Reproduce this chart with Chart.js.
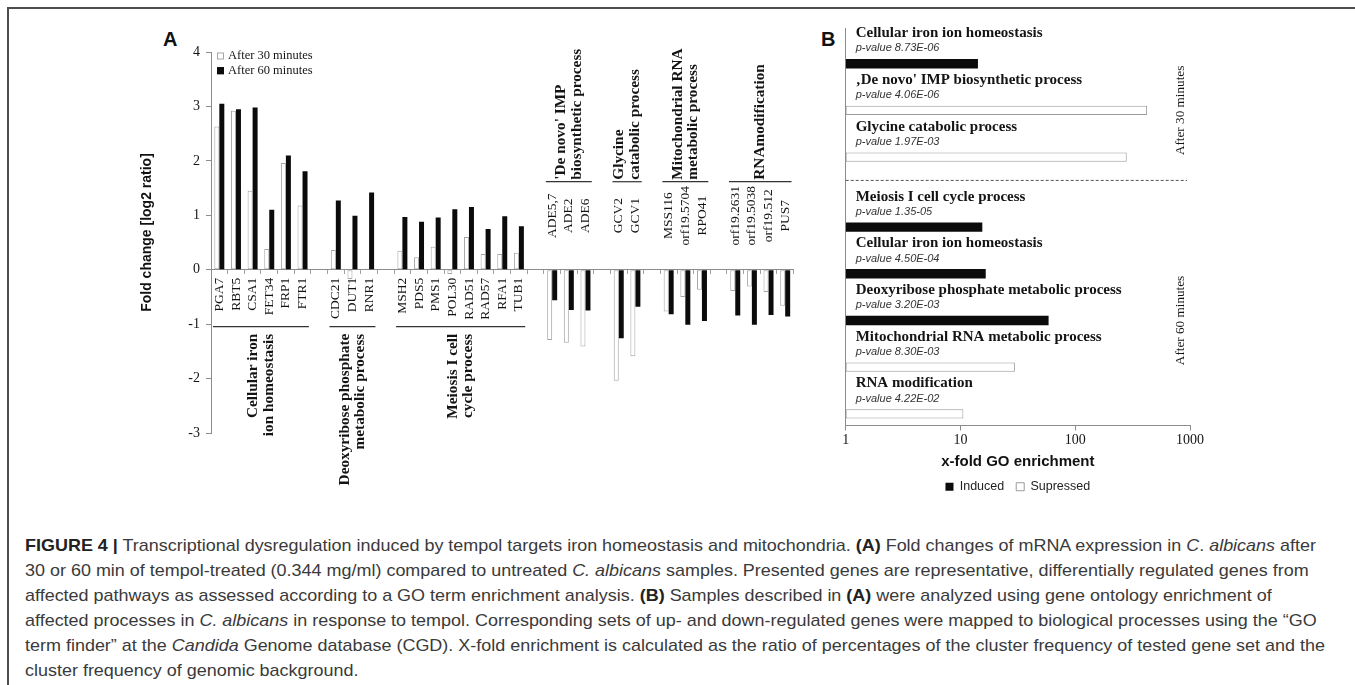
<!DOCTYPE html>
<html>
<head>
<meta charset="utf-8">
<title>Tempol transcriptional response</title>
<script src="https://cdn.jsdelivr.net/npm/chart.js@4.4.1/dist/chart.umd.min.js"></script>
<style>
  html, body { margin: 0; padding: 0; background: #fff; width: 1355px; height: 685px; overflow: hidden; position: relative; }
  #frame { position: absolute; left: 7px; top: 7px; width: 1400px; height: 700px; border-top: 2px solid #4d4d4d; border-left: 2px solid #4d4d4d; }
  .panel { position: absolute; font: bold 20px "Liberation Sans", Arial, sans-serif; color: #111; line-height: 20px; }
  #boxA { position: absolute; left: 130px; top: 20px; width: 680px; height: 480px; }
  #boxB { position: absolute; left: 800px; top: 20px; width: 430px; height: 483px; }
  #caption { position: absolute; left: 25px; top: 533px; font: 17px "Liberation Sans", Arial, sans-serif; color: #3a3a3a; line-height: 25px; white-space: nowrap; transform-origin: 0 0; }
  #caption b { color: #222; }
</style>
</head>
<body>
<div id="frame"></div>
<div class="panel" style="left:163px;top:29px;">A</div>
<div class="panel" style="left:821px;top:29px;">B</div>
<div id="boxA"><canvas id="chartA"></canvas></div>
<div id="boxB"><canvas id="chartB"></canvas></div>
<div id="caption">
  <div><b>FIGURE 4 |</b> Transcriptional dysregulation induced by tempol targets iron homeostasis and mitochondria. <b>(A)</b> Fold changes of mRNA expression in <i>C</i>. <i>albicans</i> after</div>
  <div>30 or 60 min of tempol-treated (0.344 mg/ml) compared to untreated <i>C. albicans</i> samples. Presented genes are representative, differentially regulated genes from</div>
  <div>affected pathways as assessed according to a GO term enrichment analysis. <b>(B)</b> Samples described in <b>(A)</b> were analyzed using gene ontology enrichment of</div>
  <div>affected processes in <i>C. albicans</i> in response to tempol. Corresponding sets of up- and down-regulated genes were mapped to biological processes using the “GO</div>
  <div>term finder” at the <i>Candida</i> Genome database (CGD). X-fold enrichment is calculated as the ratio of percentages of the cluster frequency of tested gene set and the</div>
  <div>cluster frequency of genomic background.</div>
</div>
<script>
// ---- Panel A: fold change (log2) per gene; '' / null mark the gaps between GO groups ----
const geneLabels = ['PGA7', 'RBT5', 'CSA1', 'FET34', 'FRP1', 'FTR1', '',
  'CDC21', 'DUT1', 'RNR1', '',
  'MSH2', 'PDS5', 'PMS1', 'POL30', 'RAD51', 'RAD57', 'RFA1', 'TUB1', '',
  'ADE5,7', 'ADE2', 'ADE6', '',
  'GCV2', 'GCV1', '',
  'MSS116', 'orf19.5704', 'RPO41', '',
  'orf19.2631', 'orf19.5038', 'orf19.512', 'PUS7'];
const after30min = [2.63, 2.92, 1.45, 0.38, 1.96, 1.18, null,
  0.36, -0.17, 0.02, null,
  0.35, 0.23, 0.42, -0.08, 0.60, 0.29, 0.29, 0.31, null,
  -1.29, -1.34, -1.41, null,
  -2.04, -1.59, null,
  -0.77, -0.50, -0.37, null,
  -0.39, -0.31, -0.41, -0.66];
const after60min = [3.05, 2.95, 2.98, 1.10, 2.10, 1.81, null,
  1.27, 0.99, 1.42, null,
  0.97, 0.88, 0.96, 1.11, 1.15, 0.75, 0.98, 0.80, null,
  -0.56, -0.74, -0.75, null,
  -1.26, -0.68, null,
  -0.82, -1.01, -0.94, null,
  -0.84, -1.01, -0.83, -0.86];
const groupTitles = [
  ['Cellular iron', 'ion homeostasis'],
  ['Deoxyribose phosphate', 'metabolic process'],
  ['Meiosis I cell', 'cycle process'],
  ["'De novo' IMP", 'biosynthetic process'],
  ['Glycine', 'catabolic process'],
  ['Mitochondrial RNA', 'metabolic process'],
  ['RNAmodification']
];
const foldRange = [-3, 4];
const seriesNames = ['After 30 minutes', 'After 60 minutes'];

// ---- Panel B: GO enrichment ----
const goPeriods = ['After 30 minutes', 'After 60 minutes'];
const goTerms = ['Cellular iron ion homeostasis', '\u201ADe novo\' IMP biosynthetic process', 'Glycine catabolic process',
  'Meiosis I cell cycle process', 'Cellular iron ion homeostasis', 'Deoxyribose phosphate metabolic process',
  'Mitochondrial RNA metabolic process', 'RNA modification'];
const goPeriodOf = [0, 0, 0, 1, 1, 1, 1, 1];
const goPValues = ['8.73E-06', '4.06E-06', '1.97E-03', '1.35-05', '4.50E-04', '3.20E-03', '8.30E-03', '4.22E-02'];
const goEnrichment = [14.2, 423, 281, 15.5, 16.6, 58.6, 29.8, 10.6];
const goRegulation = ['Induced', 'Supressed', 'Supressed', 'Induced', 'Induced', 'Induced', 'Supressed', 'Supressed'];
const regulationKinds = ['Induced', 'Supressed'];
const enrichmentTicks = [1, 10, 100, 1000];

const SERIF = '"Liberation Serif", "Times New Roman", serif';
const SANS = '"Liberation Sans", Arial, sans-serif';
const INK = '#141414';
const AXIS = '#8c8c8c';

// Gene names, group brackets and titles, inline legend and y title for panel A
const geneAxisPlugin = {
  id: 'geneAxis',
  afterDatasetsDraw(chart) {
    const { ctx, chartArea, scales: { x, y } } = chart;
    const y0 = y.getPixelForValue(0);
    const half = (x.getPixelForValue(1) - x.getPixelForValue(0)) / 2;
    const groups = [];
    geneLabels.forEach((g, i) => {
      if (!g) return;
      const last = groups[groups.length - 1];
      if (last && last.end === i - 1) last.end = i; else groups.push({ start: i, end: i });
    });
    ctx.save();
    ctx.fillStyle = INK;
    groups.forEach((grp, k) => {
      let sum = 0;
      for (let i = grp.start; i <= grp.end; i++) sum += after60min[i];
      const up = sum > 0;
      ctx.font = '13.5px ' + SERIF;
      ctx.textBaseline = 'middle';
      for (let i = grp.start; i <= grp.end; i++) {
        ctx.save();
        ctx.translate(x.getPixelForValue(i), up ? y0 + 8 : y0 - 54);
        ctx.rotate(-Math.PI / 2);
        ctx.textAlign = up ? 'right' : 'center';
        ctx.fillText(geneLabels[i], 0, 0);
        ctx.restore();
      }
      const lineY = up ? y0 + 57 : y0 - 88;
      const xl = x.getPixelForValue(grp.start) - half + 2;
      const xr = x.getPixelForValue(grp.end) + half - 2;
      ctx.strokeStyle = '#333';
      ctx.lineWidth = 1.2;
      ctx.beginPath(); ctx.moveTo(xl, lineY); ctx.lineTo(xr, lineY); ctx.stroke();
      const title = groupTitles[k];
      const cx = (xl + xr) / 2;
      ctx.font = 'bold 15.3px ' + SERIF;
      title.forEach((line, li) => {
        ctx.save();
        ctx.translate(cx + (li - (title.length - 1) / 2) * 15.5, up ? y0 + 64 : y0 - 90);
        ctx.rotate(-Math.PI / 2);
        ctx.textAlign = up ? 'right' : 'left';
        ctx.fillText(line, 0, 0);
        ctx.restore();
      });
    });
    // legend inside the plot
    ctx.font = '12.5px ' + SERIF;
    ctx.textAlign = 'left';
    ctx.textBaseline = 'middle';
    chart.data.datasets.forEach((ds, d) => {
      const ly = chartArea.top + 4 + d * 14.7;
      ctx.fillStyle = ds.backgroundColor;
      ctx.fillRect(chartArea.left + 6, ly - 3.5, 7, 7);
      ctx.strokeStyle = ds.borderColor;
      ctx.lineWidth = 1;
      ctx.strokeRect(chartArea.left + 6.5, ly - 3, 6, 6);
      ctx.fillStyle = INK;
      ctx.fillText(ds.label, chartArea.left + 17, ly);
    });
    // y axis title
    ctx.save();
    ctx.translate(chartArea.left - 64, (chartArea.top + chartArea.bottom) / 2 - 10);
    ctx.rotate(-Math.PI / 2);
    ctx.font = 'bold 14px ' + SANS;
    ctx.textAlign = 'center';
    ctx.fillStyle = '#111';
    ctx.fillText('Fold change [log2 ratio]', 0, 0);
    ctx.restore();
    ctx.restore();
  }
};

new Chart(document.getElementById('chartA'), {
  type: 'bar',
  data: {
    labels: geneLabels,
    datasets: [
      { label: seriesNames[0], data: after30min, backgroundColor: '#ffffff', borderColor: '#a5a5a5', borderWidth: 1 },
      { label: seriesNames[1], data: after60min, backgroundColor: '#0b0b0b', borderColor: '#0b0b0b', borderWidth: 0 }
    ]
  },
  options: {
    responsive: true, maintainAspectRatio: false, animation: false, devicePixelRatio: 1,
    layout: { padding: { left: 0, right: 16.5, top: 32, bottom: 67 } },
    datasets: { bar: { categoryPercentage: 0.6, barPercentage: 1, borderSkipped: false } },
    scales: {
      x: {
        position: { y: 0 },
        ticks: { display: false },
        grid: { drawOnChartArea: false, drawTicks: true, tickLength: 4, color: '#a0a0a0' },
        border: { color: AXIS }
      },
      y: {
        min: foldRange[0], max: foldRange[1],
        ticks: { stepSize: 1, font: { family: SERIF, size: 14 }, color: INK, padding: 6 },
        grid: { drawOnChartArea: false, drawTicks: true, tickLength: 5, color: AXIS },
        border: { color: AXIS },
        afterFit(s) { s.width = 81; }
      }
    },
    plugins: { legend: { display: false }, tooltip: { enabled: false } }
  },
  plugins: [geneAxisPlugin]
});

// Panel B slots: a text row above each bar, one spacer row between the two time points
const slots = [];
goTerms.forEach((t, i) => {
  if (i > 0 && goPeriodOf[i] !== goPeriodOf[i - 1]) slots.push({ kind: 'sep' });
  slots.push({ kind: 'label', term: i });
  slots.push({ kind: 'bar', term: i });
});

const goLabelPlugin = {
  id: 'goLabels',
  afterDatasetsDraw(chart) {
    const { ctx, chartArea, scales: { y } } = chart;
    ctx.save();
    ctx.fillStyle = INK;
    ctx.textAlign = 'left';
    ctx.textBaseline = 'middle';
    slots.forEach((s, i) => {
      const yc = y.getPixelForValue(i);
      if (s.kind === 'label') {
        ctx.font = 'bold 15px ' + SERIF;
        ctx.fillStyle = INK;
        ctx.fillText(goTerms[s.term], chartArea.left + 10, yc - 7);
        ctx.font = 'italic 11px ' + SANS;
        ctx.fillStyle = '#333';
        ctx.fillText('p-value ' + goPValues[s.term], chartArea.left + 10, yc + 8);
      } else if (s.kind === 'sep') {
        ctx.save();
        ctx.strokeStyle = '#555';
        ctx.lineWidth = 1;
        ctx.setLineDash([3, 2]);
        ctx.beginPath(); ctx.moveTo(chartArea.left, yc); ctx.lineTo(chartArea.right - 3, yc); ctx.stroke();
        ctx.restore();
      }
    });
    // time point captions on the right
    goPeriods.forEach((p, pi) => {
      const idx = slots.map((s, i) => (s.kind === 'bar' && goPeriodOf[s.term] === pi) ? i : -1).filter(i => i >= 0);
      const yc = (y.getPixelForValue(idx[0]) + y.getPixelForValue(idx[idx.length - 1])) / 2;
      ctx.save();
      ctx.translate(chartArea.right - 9, yc);
      ctx.rotate(-Math.PI / 2);
      ctx.font = '13.2px ' + SERIF;
      ctx.textAlign = 'center';
      ctx.fillStyle = INK;
      ctx.fillText(p, 0, 0);
      ctx.restore();
    });
    ctx.restore();
  }
};

new Chart(document.getElementById('chartB'), {
  type: 'bar',
  data: {
    labels: slots.map(s => s.kind === 'bar' ? goTerms[s.term] : ''),
    datasets: regulationKinds.map(kind => ({
      label: kind,
      data: slots.map(s => (s.kind === 'bar' && goRegulation[s.term] === kind) ? goEnrichment[s.term] : null),
      backgroundColor: kind === 'Induced' ? '#0b0b0b' : '#ffffff',
      borderColor: kind === 'Induced' ? '#0b0b0b' : '#9a9a9a',
      borderWidth: kind === 'Induced' ? 0 : 1
    }))
  },
  options: {
    indexAxis: 'y',
    responsive: true, maintainAspectRatio: false, animation: false, devicePixelRatio: 1,
    layout: { padding: { left: 45.7, right: 40, top: 8.7, bottom: 0 } },
    datasets: { bar: { grouped: false, categoryPercentage: 1, barPercentage: 0.4, borderSkipped: false } },
    scales: {
      x: {
        type: 'logarithmic', min: enrichmentTicks[0], max: enrichmentTicks[enrichmentTicks.length - 1],
        afterBuildTicks(s) { s.ticks = enrichmentTicks.map(v => ({ value: v })); },
        afterFit(s) { s.height = 43; },
        grid: { drawOnChartArea: false, drawTicks: true, tickLength: 5, color: AXIS },
        border: { color: AXIS },
        ticks: { font: { family: SERIF, size: 14 }, color: INK, padding: 1, autoSkip: false, maxRotation: 0, callback: v => String(v) },
        title: { display: true, text: 'x-fold GO enrichment', font: { family: SANS, size: 15, weight: 'bold' }, color: '#111', padding: { top: 0, bottom: -2 } }
      },
      y: {
        ticks: { display: false },
        grid: { display: false },
        border: { color: AXIS },
        afterFit(s) { s.width = 0; }
      }
    },
    plugins: {
      legend: {
        position: 'bottom',
        labels: { font: { family: SANS, size: 12.5 }, color: '#222', boxWidth: 8, boxHeight: 8, padding: 12 }
      },
      tooltip: { enabled: false }
    }
  },
  plugins: [goLabelPlugin]
});

// Caption: one shared horizontal scale so the first line spans the text column
const cap = document.getElementById('caption');
const firstLine = cap.firstElementChild;
const natural = firstLine.getBoundingClientRect().width;
cap.style.transform = 'scaleX(' + (1300 / natural).toFixed(4) + ')';
</script>
</body>
</html>
